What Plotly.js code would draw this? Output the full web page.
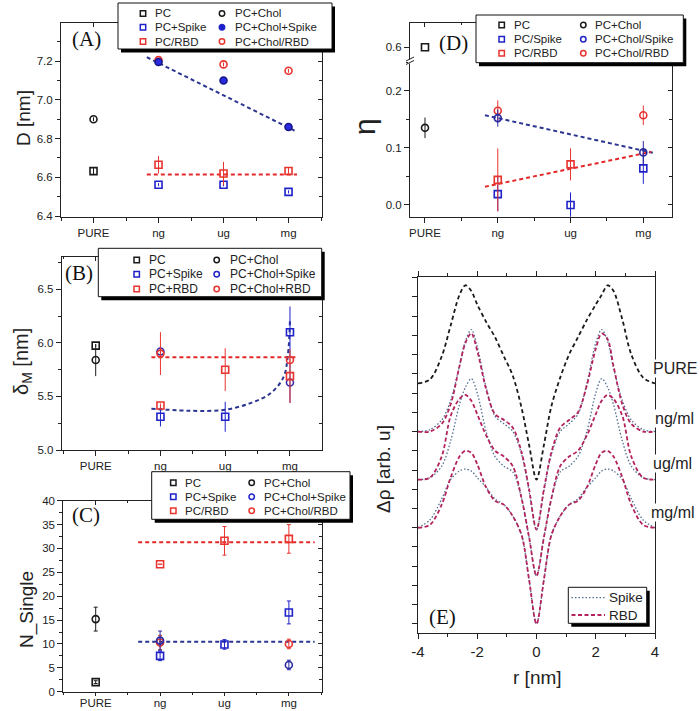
<!DOCTYPE html>
<html><head><meta charset="utf-8">
<script src="https://cdn.plot.ly/plotly-3.0.1.min.js"></script>
<style>html,body{margin:0;padding:0;background:#fff;}#chart{width:700px;height:711px;}</style>
</head><body><div id="chart"></div>
<script>
// ---------------- DATA ----------------
const categories = ['PURE', 'ng', 'ug', 'mg'];
const catPos = [0, 1, 2, 3];

// Panel A : D [nm]
const aPC = [6.632, null, null, null],        aPCErr = [0.02, 0, 0, 0];
const aChol = [6.90, null, null, null],       aCholErr = [0.01, 0, 0, 0];
const aSpike = [null, 6.562, 6.562, 6.525],   aSpikeErr = [0, 0.008, 0.008, 0.008];
const aCholSpike = [null, 7.195, 7.10, 6.86], aCholSpikeErr = [0, 0.01, 0.01, 0.01];
const aRBD = [null, 6.665, 6.62, 6.633],      aRBDErr = [0, 0.045, 0.06, 0.015];
const aCholRBD = [null, 7.205, 7.183, 7.15],  aCholRBDErr = [0, 0.01, 0.01, 0.01];
const aFitSpikeX = [0.82, 3.1],  aFitSpikeY = [7.22, 6.84];
const aFitRBDX = [0.82, 3.13],   aFitRBDY = [6.615, 6.615];

// Panel B : delta_M [nm]
const bPC = [5.975, null, null, null],        bPCErr = [0.01, 0, 0, 0];
const bChol = [5.84, null, null, null],       bCholErr = [0.15, 0, 0, 0];
const bSpike = [null, 5.31, 5.31, 6.10],      bSpikeErr = [0, 0.09, 0.14, 0.24];
const bCholSpike = [null, 5.92, null, 5.63],  bCholSpikeErr = [0, 0.02, 0, 0.19];
const bRBD = [null, 5.415, 5.75, 5.69],       bRBDErr = [0, 0.02, 0.2, 0.25];
const bCholRBD = [null, 5.90, null, 5.84],    bCholRBDErr = [0, 0.2, 0, 0.02];
const bFitSpikeX = [0.86, 1.3, 1.6, 2.0, 2.4, 2.7, 2.9, 2.97, 3.0];
const bFitSpikeY = [5.385, 5.37, 5.365, 5.375, 5.44, 5.53, 5.68, 5.9, 6.22];
const bFitRBDX = [0.86, 3.09],   bFitRBDY = [5.865, 5.865];

// Panel C : N_Single
const cPC = [2.0, null, null, null],          cPCErr = [0.3, 0, 0, 0];
const cChol = [15.2, null, null, null],       cCholErr = [2.5, 0, 0, 0];
const cSpike = [null, 7.5, 9.9, 16.6],        cSpikeErr = [0, 1.0, 1.0, 2.4];
const cCholSpike = [null, 10.7, null, 5.6],   cCholSpikeErr = [0, 2.0, 0, 1.0];
const cRBD = [null, 26.7, 31.6, 32.0],        cRBDErr = [0, 0, 3.0, 3.0];
const cCholRBD = [null, 10.3, null, 10.0],    cCholRBDErr = [0, 1.5, 0, 1.0];
const cFitRBDX = [0.66, 3.4],    cFitRBDY = [31.3, 31.3];
const cFitSpikeX = [0.66, 3.4],  cFitSpikeY = [10.47, 10.47];

// Panel D : eta
const dPC = [0.6, null, null, null];
const dChol = [0.135, null, null, null],      dCholErr = [0.018, 0, 0, 0];
const dSpike = [null, 0.019, 0.0, 0.064],     dSpikeErr = [0, 0.03, 0.022, 0.027];
const dCholSpike = [null, 0.152, null, 0.092],dCholSpikeErr = [0, 0.015, 0, 0.02];
const dRBD = [null, 0.044, 0.071, null],      dRBDErr = [0, 0.055, 0.028, 0];
const dCholRBD = [null, 0.165, null, 0.157],  dCholRBDErr = [0, 0.018, 0, 0.017];
const dFitSpikeX = [0.824, 3.16], dFitSpikeY = [0.157, 0.0905];
const dFitRBDX = [0.824, 3.11],   dFitRBDY = [0.032, 0.093];

// Panel E : delta rho profiles
const rNm = [-4,-3.6,-3.2,-2.9,-2.6,-2.4,-2.2,-2.0,-1.7,-1.4,-1.1,-0.8,-0.5,-0.25,0,0.25,0.5,0.8,1.1,1.4,1.7,2.0,2.2,2.4,2.6,2.9,3.2,3.6,4];
const ePure = [12.5,12.7,13.9,15.5,17.1,17.6,17.3,16.6,15.7,14.9,13.9,12.9,11.2,9.3,7.5,9.3,11.3,12.8,14.0,14.9,15.8,16.6,17.1,17.6,17.3,15.8,14.0,12.8,12.5];
const eNgRBD = [10.0,10.0,10.4,11.4,13.4,14.6,15.1,14.2,12.2,10.9,10.6,10.2,8.9,7.0,4.9,7.0,8.9,10.2,10.6,11.0,12.4,14.3,15.1,14.8,13.4,11.4,10.4,10.0,10.0];
const eNgSpike = [10.0,10.1,10.6,11.6,13.4,14.7,15.3,14.4,12.3,10.8,10.4,10.0,8.8,6.9,4.9,6.9,8.8,10.0,10.4,10.9,12.5,14.6,15.3,14.7,13.3,11.6,10.6,10.1,10.0];
const eUgRBD = [7.5,7.6,8.7,10.8,11.7,11.9,11.6,10.9,9.8,9.0,8.7,8.2,6.5,4.5,2.5,4.5,6.5,8.2,8.7,9.0,9.8,10.9,11.6,11.9,11.7,10.8,8.7,7.6,7.5];
const eUgSpike = [7.5,7.6,8.2,9.5,11.4,12.3,12.75,12.0,10.0,8.7,8.2,7.9,6.5,4.5,2.5,4.5,6.5,7.9,8.2,8.7,10.0,12.0,12.75,12.3,11.4,9.5,8.2,7.6,7.5];
const eMgRBD = [5.0,5.15,6.2,7.6,8.7,9.0,8.9,8.3,7.1,6.4,6.2,5.6,4.6,2.3,0.0,2.3,4.6,5.6,6.2,6.4,7.1,8.3,8.9,9.0,8.7,7.6,6.2,5.15,5.0];
const eMgSpike = [5.0,5.4,6.5,7.5,7.95,8.05,7.95,7.6,7.1,6.5,6.2,5.6,4.6,2.3,0.0,2.3,4.6,5.6,6.2,6.5,7.1,7.6,7.95,8.05,7.95,7.5,6.5,5.4,5.0];
const eRowLabels = ['PURE', 'ng/ml', 'ug/ml', 'mg/ml'];

// ---------------- STYLE / HELPERS ----------------
const W = 700, H = 711;
const P = px => px / W, Q = py => 1 - py / H;
const BLACK = '#1a1a1a', BLUE = '#1e22c8', RED = '#e8342f', NAVY = '#2b3590', FITRED = '#e3282a';
const RBDCOL = '#b3245e', SPIKECOL = '#4f6d8f';
const SANS = 'Liberation Sans, Arial, sans-serif', SERIF = 'Liberation Serif, Times New Roman, serif';
const AX = '#222';

const traces = [];
function pts(xa, ya, y, err, sym, color, opts) {
  opts = opts || {};
  traces.push({
    type: 'scatter', mode: 'markers', x: catPos, y: y, xaxis: xa, yaxis: ya,
    showlegend: false, hoverinfo: 'skip', cliponaxis: false,
    marker: { symbol: sym, size: 7, color: opts.fill || color, line: { color: color, width: 1.6 } },
    error_y: { type: 'data', array: err, visible: true, color: color, thickness: 1, width: opts.cap || 0 }
  });
}
function fit(xa, ya, x, y, color, shape) {
  traces.push({
    type: 'scatter', mode: 'lines', x: x, y: y, xaxis: xa, yaxis: ya, showlegend: false, hoverinfo: 'skip',
    line: { color: color, width: 2, dash: '4px,3px', shape: shape || 'linear' }
  });
}
function dummy(xa, ya) { traces.push({ type: 'scatter', mode: 'markers', x: [null], y: [null], xaxis: xa, yaxis: ya, showlegend: false, hoverinfo: 'skip' }); }

// Panel A
fit('x', 'y', aFitSpikeX, aFitSpikeY, NAVY);
fit('x', 'y', aFitRBDX, aFitRBDY, FITRED);
pts('x', 'y', aPC, aPCErr, 'square-open', BLACK);
pts('x', 'y', aChol, aCholErr, 'circle-open', BLACK);
pts('x', 'y', aSpike, aSpikeErr, 'square-open', BLUE);
pts('x', 'y', aRBD, aRBDErr, 'square-open', RED);
pts('x', 'y', aCholRBD, aCholRBDErr, 'circle-open', RED);
pts('x', 'y', aCholSpike, aCholSpikeErr, 'circle', '#16168a', { fill: '#2a2ae0' });
// Panel B
fit('x2', 'y2', bFitRBDX, bFitRBDY, FITRED);
fit('x2', 'y2', bFitSpikeX, bFitSpikeY, NAVY, 'spline');
pts('x2', 'y2', bPC, bPCErr, 'square-open', BLACK);
pts('x2', 'y2', bChol, bCholErr, 'circle-open', BLACK);
pts('x2', 'y2', bSpike, bSpikeErr, 'square-open', BLUE);
pts('x2', 'y2', bCholSpike, bCholSpikeErr, 'circle-open', '#3a2aa8');
pts('x2', 'y2', bRBD, bRBDErr, 'square-open', RED);
pts('x2', 'y2', bCholRBD, bCholRBDErr, 'circle-open', RED);
// Panel C
fit('x3', 'y3', cFitRBDX, cFitRBDY, FITRED);
fit('x3', 'y3', cFitSpikeX, cFitSpikeY, NAVY);
pts('x3', 'y3', cPC, cPCErr, 'square-open', BLACK, { cap: 2 });
pts('x3', 'y3', cChol, cCholErr, 'circle-open', BLACK, { cap: 2 });
pts('x3', 'y3', cRBD, cRBDErr, 'square-open', RED, { cap: 2 });
pts('x3', 'y3', cCholRBD, cCholRBDErr, 'circle-open', RED, { cap: 2 });
pts('x3', 'y3', cSpike, cSpikeErr, 'square-open', BLUE, { cap: 2 });
pts('x3', 'y3', cCholSpike, cCholSpikeErr, 'circle-open', '#2a2aa0', { cap: 2 });
// Panel D
fit('x4', 'y4', dFitSpikeX, dFitSpikeY, NAVY);
fit('x4', 'y4', dFitRBDX, dFitRBDY, FITRED);
pts('x4', 'y5', dPC, [0, 0, 0, 0], 'square-open', BLACK);
pts('x4', 'y4', dChol, dCholErr, 'circle-open', BLACK);
pts('x4', 'y4', dSpike, dSpikeErr, 'square-open', BLUE);
pts('x4', 'y4', dRBD, dRBDErr, 'square-open', RED);
pts('x4', 'y4', dCholRBD, dCholRBDErr, 'circle-open', RED);
pts('x4', 'y4', dCholSpike, dCholSpikeErr, 'circle-open', '#2a2aa0');
// Panel E
function prof(y, color, dash, w) {
  traces.push({ type: 'scatter', mode: 'lines', x: rNm, y: y, xaxis: 'x5', yaxis: 'y6', showlegend: false, hoverinfo: 'skip',
    line: { color: color, width: w || 1.6, dash: dash, shape: 'spline', smoothing: 0.9 } });
}
prof(ePure, BLACK, '4px,3px', 1.8);
prof(eNgSpike, SPIKECOL, '1.5px,2px', 1.3);
prof(eNgRBD, RBDCOL, '4px,2.5px', 1.8);
prof(eUgSpike, SPIKECOL, '1.5px,2px', 1.3);
prof(eUgRBD, RBDCOL, '4px,2.5px', 1.8);
prof(eMgSpike, SPIKECOL, '1.5px,2px', 1.3);
prof(eMgRBD, RBDCOL, '4px,2.5px', 1.8);

// overlay axes dummies (mirror frames with inward ticks)
dummy('x', 'y7'); dummy('x6', 'y');
dummy('x2', 'y8'); dummy('x7', 'y2');
dummy('x3', 'y9'); dummy('x8', 'y3');
dummy('x4', 'y10'); dummy('x4', 'y11'); dummy('x9', 'y5');

// ---------------- AXES ----------------
const tickFont = { family: SANS, size: 11.5, color: AX };
const base = { showgrid: false, zeroline: false, showline: true, linecolor: AX, linewidth: 1,
  ticks: 'outside', tickcolor: AX, ticklen: 5, tickwidth: 1, tickfont: tickFont };
function xCat(domain, anchor, range) {
  return Object.assign({}, base, { domain: domain, anchor: anchor, range: range, tickmode: 'array',
    tickvals: catPos, ticktext: categories,
    minor: { tickmode: 'linear', tick0: 0, dtick: 0.5, ticks: 'outside', ticklen: 3, tickcolor: AX } });
}
function xTop(over, anchor, range) {
  return { overlaying: over, anchor: anchor, side: 'top', range: range, showgrid: false, zeroline: false,
    showline: true, linecolor: AX, ticks: 'inside', ticklen: 4, tickcolor: AX, tickmode: 'array', tickvals: catPos,
    showticklabels: false, minor: { tickmode: 'linear', tick0: 0, dtick: 0.5, ticks: 'inside', ticklen: 2.5, tickcolor: AX } };
}
function yLin(domain, anchor, range, tick0, dtick, fmt, mdt) {
  return Object.assign({}, base, { domain: domain, anchor: anchor, range: range, tick0: tick0, dtick: dtick,
    tickformat: fmt, minor: { tick0: tick0, dtick: mdt, ticks: 'outside', ticklen: 3, tickcolor: AX } });
}
function yRight(over, anchor, range, tick0, dtick, mdt) {
  return { overlaying: over, anchor: anchor, side: 'right', range: range, showgrid: false, zeroline: false,
    showline: true, linecolor: AX, ticks: 'inside', ticklen: 4, tickcolor: AX, tick0: tick0, dtick: dtick,
    showticklabels: false, minor: { tick0: tick0, dtick: mdt, ticks: 'inside', ticklen: 2.5, tickcolor: AX } };
}
const rA = [-0.5, 3.51], rB = [-0.525, 3.49], rC = [-0.503, 3.51], rD = [-0.206, 3.39];
const yrA = [6.397, 7.395], yrB = [5.0, 6.805], yrC = [0, 40], yrD = [-0.0205, 0.2507], yrD2 = [0.563, 0.663];
const dAx = [P(61), P(321.7)], dAy = [Q(216.7), Q(23.3)];
const dBx = [P(61.7), P(321.7)], dBy = [Q(450), Q(256.7)];
const dCx = [P(63.3), P(321.7)], dCy = [Q(691.7), Q(500.7)];
const dDx = [P(410), P(671.7)], dDy = [Q(216.7), Q(61.7)], dDy2 = [Q(61.7), Q(22.7)];
const dEx = [P(418), P(655)], dEy = [Q(633), Q(277)];

const xC = xCat(dCx, 'y3', rC);
xC.ticklen = 3; xC.ticklabelstandoff = -3; xC.minor.ticklen = 2;

const layout = {
  width: W, height: H, margin: { l: 0, r: 0, t: 0, b: 0 }, paper_bgcolor: '#fff', plot_bgcolor: 'rgba(0,0,0,0)',
  showlegend: false, font: { family: SANS, color: AX },
  xaxis: xCat(dAx, 'y', rA),
  yaxis: yLin(dAy, 'x', yrA, 6.4, 0.2, '.1f', 0.1),
  xaxis2: xCat(dBx, 'y2', rB),
  yaxis2: yLin(dBy, 'x2', yrB, 5.0, 0.5, '.1f', 0.25),
  xaxis3: xC,
  yaxis3: yLin(dCy, 'x3', yrC, 0, 5, 'd', 2.5),
  xaxis4: xCat(dDx, 'y4', rD),
  yaxis4: yLin(dDy, 'x4', yrD, 0, 0.1, '.1f', 0.05),
  yaxis5: Object.assign({}, base, { domain: dDy2, anchor: 'x4', range: yrD2, tickmode: 'array', tickvals: [0.6], ticktext: ['0.6'] }),
  xaxis5: Object.assign({}, base, { domain: dEx, anchor: 'y6', range: [-4, 4], tickmode: 'array',
    tickvals: [-4, -2, 0, 2, 4], ticktext: ['-4', '-2', '0', '2', '4'], mirror: 'allticks',
    tickfont: { family: SANS, size: 15, color: AX },
    minor: { tickmode: 'array', tickvals: [-3, -1, 1, 3], ticks: 'outside', ticklen: 3, tickcolor: AX } }),
  yaxis6: Object.assign({}, base, { domain: dEy, anchor: 'x5', range: [-0.47, 18.03], tick0: 0, dtick: 1,
    showticklabels: false, mirror: true }),
  yaxis7: yRight('y', 'x', yrA, 6.4, 0.2, 0.1), xaxis6: xTop('x', 'y', rA),
  yaxis8: yRight('y2', 'x2', yrB, 5.0, 0.5, 0.25), xaxis7: xTop('x2', 'y2', rB),
  yaxis9: yRight('y3', 'x3', yrC, 0, 5, 2.5), xaxis8: xTop('x3', 'y3', rC),
  yaxis10: yRight('y4', 'x4', yrD, 0, 0.1, 0.05),
  yaxis11: { overlaying: 'y5', anchor: 'x4', side: 'right', range: yrD2, showgrid: false, zeroline: false, showline: true,
    linecolor: AX, ticks: '', showticklabels: false },
  xaxis9: xTop('x4', 'y5', rD),
  shapes: [], annotations: []
};

// ---------------- ANNOTATIONS / LEGENDS ----------------
const S = layout.shapes, A = layout.annotations;
function txt(x, y, text, size, opts) {
  opts = opts || {};
  A.push(Object.assign({ xref: 'paper', yref: 'paper', x: P(x), y: Q(y), text: text, showarrow: false,
    xanchor: 'center', yanchor: 'middle', font: { family: SANS, size: size, color: AX } }, opts));
}
function box(x0, y0, x1, y1) {
  S.push({ type: 'rect', xref: 'paper', yref: 'paper', x0: P(x0 + 3), x1: P(x1 + 3), y0: Q(y0 + 3.5), y1: Q(y1 + 3.5),
    fillcolor: '#000', line: { width: 0 } });
  S.push({ type: 'rect', xref: 'paper', yref: 'paper', x0: P(x0), x1: P(x1), y0: Q(y0), y1: Q(y1),
    fillcolor: '#fff', line: { color: '#111', width: 1 } });
}
function mk(cx, cy, sym, color, fill) {
  const h = 2.7;
  S.push({ type: sym === 'square' ? 'rect' : 'circle', xref: 'paper', yref: 'paper',
    x0: P(cx - h), x1: P(cx + h), y0: Q(cy + h), y1: Q(cy - h),
    fillcolor: fill || 'rgba(0,0,0,0)', line: { color: color, width: 1.5 } });
}
function legend6(bx, rows, c1m, c1t, c2m, c2t, labels, chFill, fs) {
  box(bx[0], bx[1], bx[2], bx[3]);
  const syms = [['square', BLACK], ['circle', BLACK], ['square', BLUE], ['circle', BLUE], ['square', RED], ['circle', RED]];
  for (let i = 0; i < 6; i++) {
    const r = Math.floor(i / 2), c = i % 2;
    const mx = c === 0 ? c1m : c2m, tx = c === 0 ? c1t : c2t;
    mk(mx, rows[r], syms[i][0], syms[i][1], (i === 3 && chFill) ? BLUE : null);
    txt(tx, rows[r], labels[i], fs || 11.5, { xanchor: 'left' });
  }
}
legend6([118, 3, 332, 49], [13.5, 27.3, 41.5], 143, 153, 222, 233,
  ['PC', 'PC+Chol', 'PC+Spike', 'PC+Chol+Spike', 'PC/RBD', 'PC+Chol/RBD'], true);
legend6([98.3, 248.3, 321.7, 296.7], [260, 274.3, 289], 136.7, 147, 216.7, 228,
  ['PC', 'PC+Chol', 'PC+Spike', 'PC+Chol+Spike', 'PC+RBD', 'PC+Chol+RBD'], false, 12);
legend6([151.7, 471.7, 350, 519.3], [482.7, 496.7, 510.7], 173.3, 183, 251.7, 261.5,
  ['PC', 'PC+Chol', 'PC+Spike', 'PC+Chol+Spike', 'PC/RBD', 'PC+Chol/RBD'], false);
legend6([476, 15, 683.3, 62.7], [25, 39.3, 53.3], 501.7, 511.5, 583.3, 593,
  ['PC', 'PC+Chol', 'PC/Spike', 'PC+Chol/Spike', 'PC/RBD', 'PC+Chol/RBD'], false);

// Panel E legend
box(568.3, 587.3, 646.7, 623.3);
S.push({ type: 'line', xref: 'paper', yref: 'paper', x0: P(571.5), x1: P(605), y0: Q(597.7), y1: Q(597.7),
  line: { color: SPIKECOL, width: 1.3, dash: '1.5px,2px' } });
S.push({ type: 'line', xref: 'paper', yref: 'paper', x0: P(571.5), x1: P(605), y0: Q(615), y1: Q(615),
  line: { color: RBDCOL, width: 1.8, dash: '4px,2.5px' } });
txt(607, 597.7, 'Spike', 13.5, { xanchor: 'left' });
txt(607, 615, 'RBD', 13.5, { xanchor: 'left' });

// D axis break marks
S.push({ type: 'rect', xref: 'paper', yref: 'paper', x0: P(408), x1: P(412), y0: Q(63.5), y1: Q(59.5), fillcolor: '#fff', line: { width: 0 } });
S.push({ type: 'line', xref: 'paper', yref: 'paper', x0: P(406), x1: P(414), y0: Q(61.5 + 3), y1: Q(61.5 - 1), line: { color: AX, width: 1 } });
S.push({ type: 'line', xref: 'paper', yref: 'paper', x0: P(406), x1: P(414), y0: Q(58 + 3), y1: Q(58 - 1), line: { color: AX, width: 1 } });

// Panel letters
txt(86, 39, '(A)', 21, { font: { family: SERIF, size: 21, color: '#111' } });
txt(79, 273, '(B)', 21, { font: { family: SERIF, size: 21, color: '#111' } });
txt(86, 515, '(C)', 21, { font: { family: SERIF, size: 21, color: '#111' } });
txt(453, 43, '(D)', 21, { font: { family: SERIF, size: 21, color: '#111' } });
txt(442, 617, '(E)', 21, { font: { family: SERIF, size: 21, color: '#111' } });

// Axis titles
txt(23, 118, 'D [nm]', 19, { textangle: -90 });
txt(22, 362, 'δ<sub>M</sub> [nm]', 20, { textangle: -90 });
txt(27, 610, 'N_Single', 19, { textangle: -90 });
txt(364, 127, 'η', 30, { textangle: -90 });
txt(383, 469, 'Δρ [arb. u]', 19, { textangle: -90 });
txt(537, 677, 'r [nm]', 19);

// Panel E row labels
const rowY = [368, 418, 463, 512], rowX = [652, 654, 652, 650];
eRowLabels.forEach((t, i) => txt(rowX[i], rowY[i], t, 16, { xanchor: 'left', bgcolor: '#fff', borderpad: 0 }));

Plotly.newPlot('chart', traces, layout, { staticPlot: true, displayModeBar: false });
</script></body></html>
